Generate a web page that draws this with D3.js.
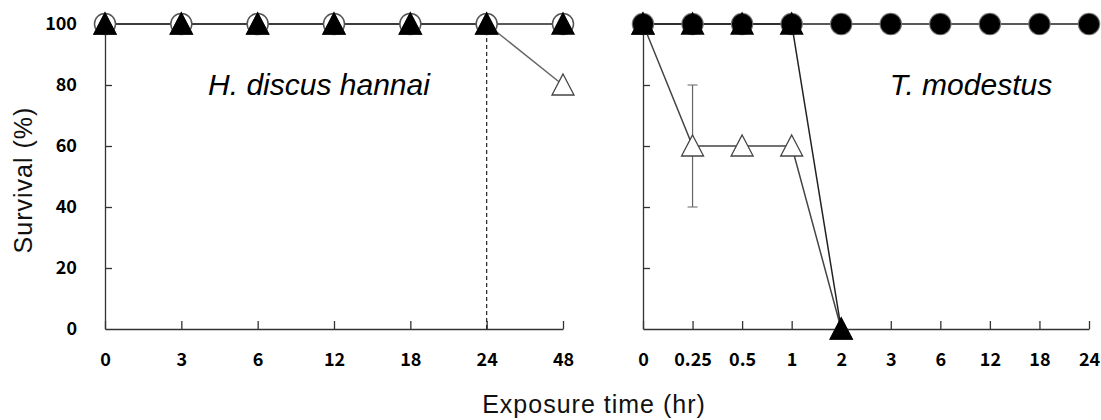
<!DOCTYPE html>
<html>
<head>
<meta charset="utf-8">
<script src="https://cdn.jsdelivr.net/npm/d3@7"></script>
<style>
  body { margin: 0; background: #fff; }
  svg { display: block; }
  .tick text { font-family: "Noto Sans CJK KR", "Noto Sans", sans-serif; font-weight: bold; font-size: 18px; fill: #000; }
  .domain, .tick line { stroke: #333; stroke-width: 1.3; }
  .label { font-family: "Liberation Sans", Arial, sans-serif; font-size: 25px; letter-spacing: 1px; fill: #111; }
  .title { font-family: "Liberation Sans", Arial, sans-serif; font-style: italic; font-size: 30px; fill: #000; }
</style>
</head>
<body>
<script>
// H. discus hannai panel
const leftTimes = ['0', '3', '6', '12', '18', '24', '48'];
const leftOpenCircle = [100, 100, 100, 100, 100, 100, 100];
const leftFilledTri = [100, 100, 100, 100, 100, 100, 100];
const leftOpenTri = [100, 100, 100, 100, 100, 100, 80];

// T. modestus panel
const rightTimes = ['0', '0.25', '0.5', '1', '2', '3', '6', '12', '18', '24'];
const rightOpenCircle = [100, 100, 100, 100, 100, 100, 100, 100, 100, 100];
const rightFilledCircle = [100, 100, 100, 100, 100, 100, 100, 100, 100, 100];
const rightFilledTri = [100, 100, 100, 100, 0];
const rightOpenTri = [100, 60, 60, 60, 0];
const rightOpenTriErr = [0, 20, 0, 0, 0];

const yTicks = [0, 20, 40, 60, 80, 100];

const w = 1101;
const h = 420;

const svg = d3.select('body').append('svg').attr('width', w).attr('height', h);

const y = d3.scaleLinear().domain([0, 100]).range([329, 24]);
const xLeft = d3.scalePoint().domain(leftTimes).range([105, 563]);
const xRight = d3.scalePoint().domain(rightTimes).range([643, 1089]);

const triPath = 'M0,-11L11,10L-11,10Z';

//-------------------------------------------------------

const drawAxes = (x, showLabels) => {
  svg.append('g')
    .attr('transform', `translate(0,${y(0)})`)
    .call(d3.axisBottom(x).tickSizeInner(-8).tickSizeOuter(0).tickPadding(24));

  svg.append('g')
    .attr('transform', `translate(${x.range()[0]},0)`)
    .call(
      d3.axisLeft(y)
        .tickValues(yTicks)
        .tickSizeInner(-7)
        .tickSizeOuter(0)
        .tickPadding(28)
        .tickFormat(showLabels ? d3.format('d') : '')
    )
    .call((g) => g.selectAll('.tick line').filter((d) => d === 0 || d === 100).remove());
};

const drawLine = (x, times, values, color) => {
  const pts = values.map((v, i) => [x(times[i]), y(v)]);
  svg.append('path')
    .attr('d', d3.line()(pts))
    .attr('fill', 'none')
    .attr('stroke', color)
    .attr('stroke-width', 1.5);
};

const drawCircles = (x, times, values, r, fill, stroke) => {
  svg.append('g')
    .selectAll('circle')
    .data(values)
    .enter()
    .append('circle')
    .attr('cx', (d, i) => x(times[i]))
    .attr('cy', (d) => y(d))
    .attr('r', r)
    .attr('fill', fill)
    .attr('stroke', stroke)
    .attr('stroke-width', 1.5);
};

const drawTris = (x, times, values, fill, stroke) => {
  svg.append('g')
    .selectAll('path')
    .data(values)
    .enter()
    .append('path')
    .attr('d', triPath)
    .attr('transform', (d, i) => `translate(${x(times[i])},${y(d)})`)
    .attr('fill', fill)
    .attr('stroke', stroke)
    .attr('stroke-width', 1.3);
};

drawAxes(xLeft, true);
drawAxes(xRight, false);

// left panel
svg.append('line')
  .attr('x1', xLeft('24')).attr('x2', xLeft('24'))
  .attr('y1', y(100)).attr('y2', y(0))
  .attr('stroke', '#222')
  .attr('stroke-width', 1.2)
  .attr('stroke-dasharray', '4,3');

drawLine(xLeft, leftTimes, leftOpenTri, '#666');
drawLine(xLeft, leftTimes, leftOpenCircle, '#222');
drawCircles(xLeft, leftTimes, leftOpenCircle, 10.5, '#fff', '#555');
drawTris(xLeft, leftTimes, leftOpenTri, '#fff', '#444');
drawTris(xLeft, leftTimes, leftFilledTri, '#000', '#000');

// right panel
drawLine(xRight, rightTimes, rightOpenTri, '#444');
drawLine(xRight, rightTimes, rightFilledTri, '#222');
drawLine(xRight, rightTimes, rightFilledCircle, '#222');

// error bars
rightOpenTriErr.forEach((d, i) => {
  if (!d) return;
  const cx = xRight(rightTimes[i]);
  const v = rightOpenTri[i];
  svg.append('path')
    .attr('d', `M${cx - 5},${y(v + d)}H${cx + 5}M${cx},${y(v + d)}V${y(v - d)}M${cx - 5},${y(v - d)}H${cx + 5}`)
    .attr('fill', 'none')
    .attr('stroke', '#666')
    .attr('stroke-width', 1.2);
});

drawCircles(xRight, rightTimes, rightOpenCircle, 10.5, '#fff', '#777');
drawTris(xRight, rightTimes, rightOpenTri, '#fff', '#444');
drawTris(xRight, rightTimes, rightFilledTri, '#000', '#000');
drawCircles(xRight, rightTimes, rightFilledCircle, 9.5, '#000', '#000');

// titles
svg.append('text')
  .attr('class', 'title')
  .attr('x', 319).attr('y', 95)
  .attr('text-anchor', 'middle')
  .text('H. discus hannai');

svg.append('text')
  .attr('class', 'title')
  .attr('x', 971).attr('y', 95)
  .attr('text-anchor', 'middle')
  .text('T. modestus');

svg.append('text')
  .attr('class', 'label')
  .attr('transform', 'translate(32,180) rotate(-90)')
  .attr('text-anchor', 'middle')
  .text('Survival (%)');

svg.append('text')
  .attr('class', 'label')
  .attr('x', 594).attr('y', 413)
  .attr('text-anchor', 'middle')
  .text('Exposure time (hr)');
</script>
</body>
</html>
